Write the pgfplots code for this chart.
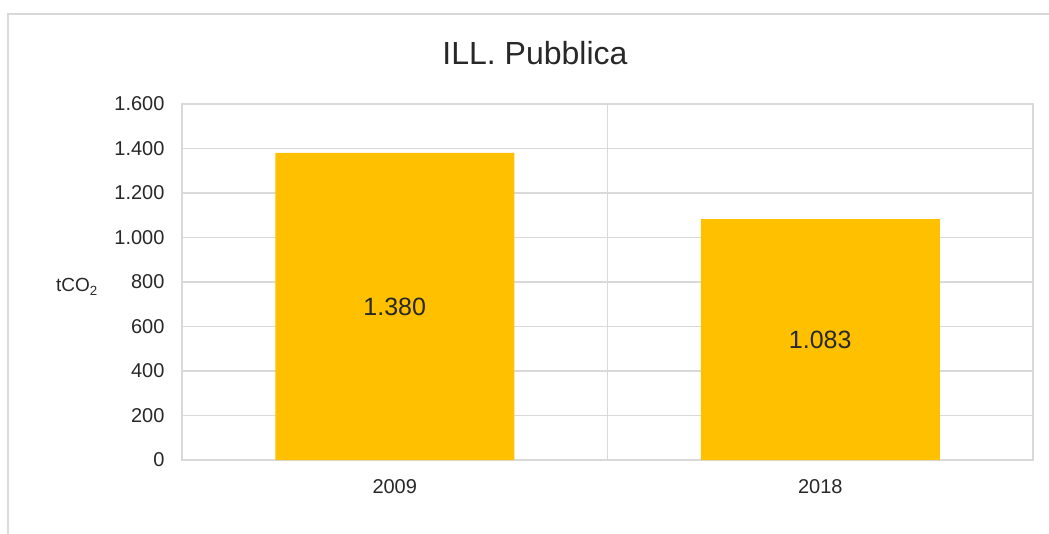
\documentclass[border=0pt]{standalone}
\usepackage{fontspec}
\setmainfont{Liberation Sans}
\usepackage{pgfplots}
\pgfplotsset{compat=1.18}
\definecolor{gridg}{RGB}{217,217,217}
\definecolor{txt}{RGB}{40,40,40}
\definecolor{bargold}{RGB}{255,192,0}
\begin{document}
\begin{tikzpicture}[x=1pt,y=1pt]
  % canvas and outer chart frame
  \path[use as bounding box] (0,0) rectangle (1049,533);
  \draw[gridg, line width=1.5pt] (8,-10) -- (8,519) -- (1070,519);
  \node[txt, font=\fontsize{32}{36}\selectfont] at (535,480) {ILL. Pubblica};
  \node[txt, font=\fontsize{19}{22}\selectfont] at (77,246) {tCO\textsubscript{2}};
  \begin{axis}[
      at={(182pt,73pt)}, anchor=south west,
      width=851pt, height=356pt, scale only axis,
      xmin=0, xmax=2, ymin=0, ymax=1600,
      ytick={0,200,...,1600},
      xtick={0.5,1.5}, xticklabels={2009,2018},
      extra x ticks={1}, extra x tick labels={},
      extra x tick style={grid=major},
      ymajorgrids,
      grid style={gridg, line width=1.3pt},
      axis line style={gridg, line width=1.3pt},
      major tick length=0pt,
      tick label style={txt, font=\fontsize{20}{24}\selectfont},
      yticklabel style={xshift=-14pt},
      xticklabel style={yshift=-16pt},
      /pgf/number format/.cd, assume math mode=true, 1000 sep={.},
    ]
    \addplot[ybar, bar width=239pt, fill=bargold, draw=none, bar shift=0pt]
      coordinates {(0.5,1380) (1.5,1083)};
    \node[txt, font=\fontsize{25}{30}\selectfont] at (axis cs:0.5,690) {1.380};
    \node[txt, font=\fontsize{25}{30}\selectfont] at (axis cs:1.5,541.5) {1.083};
  \end{axis}
\end{tikzpicture}
\end{document}
